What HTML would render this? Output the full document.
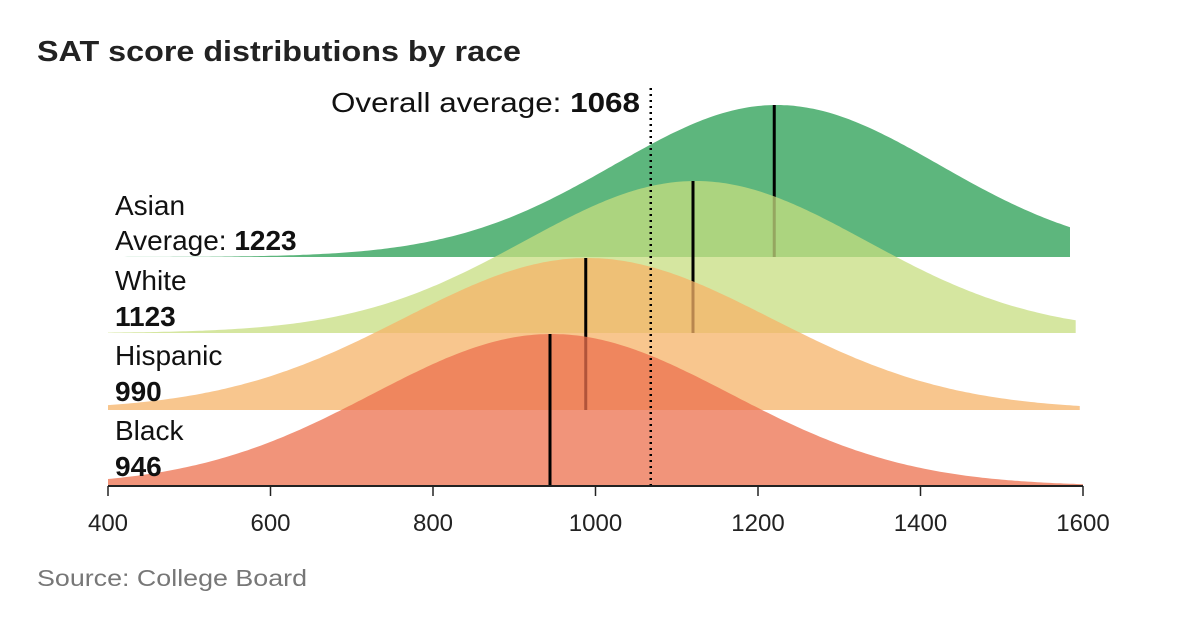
<!DOCTYPE html>
<html><head><meta charset="utf-8"><style>
body{margin:0;background:#fff;}
svg{display:block;font-family:"Liberation Sans",sans-serif;}
</style></head><body>
<svg id="chart" width="1200" height="630" viewBox="0 0 1200 630">
<text x="37" y="61" font-size="29" font-weight="bold" fill="#222" textLength="484" lengthAdjust="spacingAndGlyphs">SAT score distributions by race</text>
<g id="layers"></g>
<line id="avgline" y1="88" y2="486" stroke="#000" stroke-width="2.5" stroke-dasharray="2,4"/>
<text x="640" y="112" font-size="28" text-anchor="end" fill="#111" textLength="309" lengthAdjust="spacingAndGlyphs">Overall average: <tspan font-weight="bold">1068</tspan></text>
<g id="axis"></g>
<text x="37" y="586" font-size="23" fill="#777" textLength="270" lengthAdjust="spacingAndGlyphs">Source: College Board</text>
</svg>
<script>
const groups = ["Asian","White","Hispanic","Black"];
const means = [1223,1123,990,946];
const lineMeans = [1220,1120,988,944];
const sds = [200,210,225,220];
const maxScore = [1584,1591,1596,1600];
const tickValues = [400,600,800,1000,1200,1400,1600];
const overallAvg = 1068;

const NS="http://www.w3.org/2000/svg";
const x0=108,x1=1083,vMin=400,vMax=1600;
const xs=v=>x0+(v-vMin)/(vMax-vMin)*(x1-x0);
const baselines=[257,333,410,486];
const peakH=152;
const fills=["rgb(93,182,125)","rgba(199,222,128,0.75)","rgba(246,179,104,0.75)","rgba(236,112,78,0.75)"];
const layers=document.getElementById('layers');
groups.forEach((g,i)=>{
  const b=baselines[i];
  let d=`M${xs(vMin)},${b}`;
  for(let v=vMin;v<=maxScore[i];v+=4){
    const y=b-peakH*Math.exp(-Math.pow(v-means[i],2)/(2*sds[i]*sds[i]));
    d+=` L${xs(v).toFixed(1)},${y.toFixed(1)}`;
  }
  const yEnd=b-peakH*Math.exp(-Math.pow(maxScore[i]-means[i],2)/(2*sds[i]*sds[i]));
  d+=` L${xs(maxScore[i])},${yEnd.toFixed(1)} L${xs(maxScore[i])},${b} Z`;
  const p=document.createElementNS(NS,'path');
  
  
  p.setAttribute('d',d);p.setAttribute('fill',fills[i]);
  layers.appendChild(p);
  const l=document.createElementNS(NS,'line');
  
  
  const lx=xs(lineMeans[i]);
  l.setAttribute('x1',lx);l.setAttribute('x2',lx);
  l.setAttribute('y1',b-peakH*Math.exp(-Math.pow(lineMeans[i]-means[i],2)/(2*sds[i]*sds[i])));
  l.setAttribute('y2',b);l.setAttribute('stroke','#000');l.setAttribute('stroke-width','3');
  layers.appendChild(l);
});
const labelTop=[["Asian","Average: ","1223"],["White","","1123"],["Hispanic","","990"],["Black","","946"]];
const labelY=[[215,250],[290,326],[365,401],[440,476]];
labelTop.forEach((t,i)=>{
  const a=document.createElementNS(NS,'text');
  
  
  a.setAttribute('x',115);a.setAttribute('y',labelY[i][0]);a.setAttribute('font-size','28');a.setAttribute('fill','#111');
  a.textContent=t[0];layers.appendChild(a);
  const bt=document.createElementNS(NS,'text');
  
  
  bt.setAttribute('x',115);bt.setAttribute('y',labelY[i][1]);bt.setAttribute('font-size','28');bt.setAttribute('fill','#111');
  bt.innerHTML=t[1]+'<tspan font-weight="bold">'+t[2]+'</tspan>';
  layers.appendChild(bt);
});
const al=document.getElementById('avgline');
al.setAttribute('x1',xs(overallAvg));al.setAttribute('x2',xs(overallAvg));
const axis=document.getElementById('axis');
const base=document.createElementNS(NS,'line');


base.setAttribute('x1',x0);base.setAttribute('x2',x1);base.setAttribute('y1',486);base.setAttribute('y2',486);
base.setAttribute('stroke','#222');base.setAttribute('stroke-width','2');axis.appendChild(base);
tickValues.forEach(v=>{
  const t=document.createElementNS(NS,'line');
  
  
  t.setAttribute('x1',xs(v));t.setAttribute('x2',xs(v));t.setAttribute('y1',486);t.setAttribute('y2',496);
  t.setAttribute('stroke','#222');t.setAttribute('stroke-width','1.5');axis.appendChild(t);
  const tx=document.createElementNS(NS,'text');
  
  
  tx.setAttribute('x',xs(v));tx.setAttribute('y',531);tx.setAttribute('font-size','24');
  tx.setAttribute('text-anchor','middle');tx.setAttribute('fill','#222');tx.textContent=v;axis.appendChild(tx);
});
</script>
</body></html>
